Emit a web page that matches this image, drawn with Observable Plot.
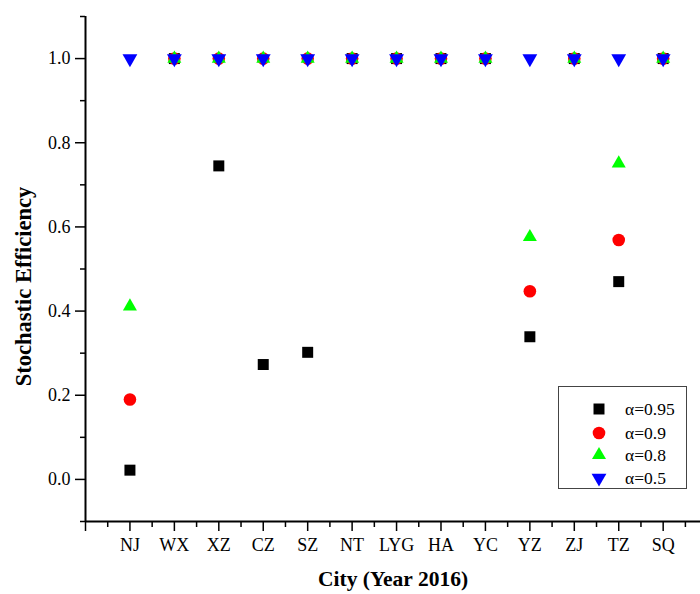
<!DOCTYPE html>
<html>
<head>
<meta charset="utf-8">
<script src="https://cdn.jsdelivr.net/npm/d3@7"></script>
<script src="https://cdn.jsdelivr.net/npm/@observablehq/plot@0.6"></script>
<style>
  html, body { margin: 0; padding: 0; background: #fff; }
  #wrap { position: relative; width: 700px; height: 594px; }
  #legend { position: absolute; left: 558px; top: 386px; width: 127px; height: 101px;
    border: 1px solid #444; background: #fff; font-family: "Liberation Serif", serif; font-size: 17px; }
</style>
</head>
<body>
<div id="wrap"></div>
<script>
const cities = ["NJ", "WX", "XZ", "CZ", "SZ", "NT", "LYG", "HA", "YC", "YZ", "ZJ", "TZ", "SQ"];
const a095 = [0.022, 1, 0.745, 0.273, 0.302, 1, 1, 1, 1, 0.339, 1, 0.470, 1];
const a090 = [0.190, 1, 1, 1, 1, 1, 1, 1, 1, 0.447, 1, 0.569, 1];
const a080 = [0.411, 1, 1, 1, 1, 1, 1, 1, 1, 0.576, 1, 0.751, 1];
const a050 = [1, 1, 1, 1, 1, 1, 1, 1, 1, 1, 1, 1, 1];
const seriesLabels = ["α=0.95", "α=0.9", "α=0.8", "α=0.5"];
const yTicks = [0, 0.2, 0.4, 0.6, 0.8, 1.0];
const yMinor = [-0.1, 0.1, 0.3, 0.5, 0.7, 0.9, 1.1];

const toRows = (vals) => vals.map((v, i) => ({city: cities[i], idx: i + 1, v}));

// Down-pointing triangle symbol
const triangleDown = {
  draw(ctx, size) {
    const y = Math.sqrt(size / (3 * Math.sqrt(3)));
    const s3 = Math.sqrt(3);
    ctx.moveTo(0, 2 * y);
    ctx.lineTo(s3 * y, -y);
    ctx.lineTo(-s3 * y, -y);
    ctx.closePath();
  }
};

const colors = ["#000000", "#ff0000", "#00ff00", "#0000ff"];
const symbols = ["square", "circle", "triangle", triangleDown];
const radii = [6.2, 6.3, 5.2, 5.5];

const majorX = d3.range(0, 14);
const minorX = d3.range(0, 14).map(d => d + 0.5);

const plot = Plot.plot({
  width: 700,
  height: 594,
  marginLeft: 85,
  marginRight: 0,
  marginTop: 16,
  marginBottom: 73,
  style: {fontFamily: "'Liberation Serif', serif", fontSize: "17px", color: "#000", background: "#fff"},
  x: {type: "linear", domain: [0, 13.84]},
  y: {domain: [-0.1, 1.1]},
  marks: [
    Plot.axisX({ticks: majorX, tickSize: 10, tickPadding: 7, strokeWidth: 1.5,
      tickFormat: d => (d >= 1 && d <= 13 ? cities[d - 1] : ""), label: null, fontSize: 18}),
    Plot.axisX({ticks: minorX, tickSize: 6, strokeWidth: 1.5, tickFormat: () => "", label: null}),
    Plot.axisY({ticks: yTicks, tickSize: 10, tickPadding: 5, strokeWidth: 1.5,
      tickFormat: d3.format(".1f"), label: null, fontSize: 18}),
    Plot.axisY({ticks: yMinor, tickSize: 5, strokeWidth: 1.5, tickFormat: () => "", label: null}),
    Plot.ruleY([-0.1], {stroke: "#000", strokeWidth: 2}),
    Plot.ruleX([0], {stroke: "#000", strokeWidth: 2}),
    ...[a095, a090, a080, a050].map((vals, k) =>
      Plot.dot(toRows(vals), {x: "idx", y: "v", symbol: () => symbols[k], fill: colors[k], r: radii[k], stroke: "none"})
    ),
    Plot.text(["City (Year 2016)"], {frameAnchor: "bottom", dy: 58, fontSize: 21.5, fontWeight: "bold", lineAnchor: "middle", textAnchor: "middle"}),
    Plot.text(["Stochastic Efficiency"], {frameAnchor: "left", dx: -62, dy: 17.5, rotate: -90, fontSize: 22.5, fontWeight: "bold", lineAnchor: "middle", textAnchor: "middle"})
  ]
});

const wrap = document.getElementById("wrap");
wrap.appendChild(plot);

// Legend
const legend = document.createElement("div");
legend.id = "legend";
const rowYs = [22, 46, 68, 91];
const lsvg = d3.create("svg").attr("width", 127).attr("height", 101).style("position", "absolute").style("left", "0").style("top", "0");
seriesLabels.forEach((lab, k) => {
  const r = radii[k];
  const size = Math.PI * r * r;
  const sym = typeof symbols[k] === "string"
    ? {square: d3.symbolSquare, circle: d3.symbolCircle, triangle: d3.symbolTriangle}[symbols[k]]
    : symbols[k];
  lsvg.append("path").attr("d", d3.symbol(sym, size)()).attr("fill", colors[k])
    .attr("transform", `translate(40,${rowYs[k]})`);
  lsvg.append("text").attr("x", 66).attr("y", rowYs[k]).attr("dy", "0.35em")
    .style("font-family", "'Liberation Serif', serif").style("font-size", "17.5px").text(lab);
});
legend.appendChild(lsvg.node());
wrap.appendChild(legend);
</script>
</body>
</html>
